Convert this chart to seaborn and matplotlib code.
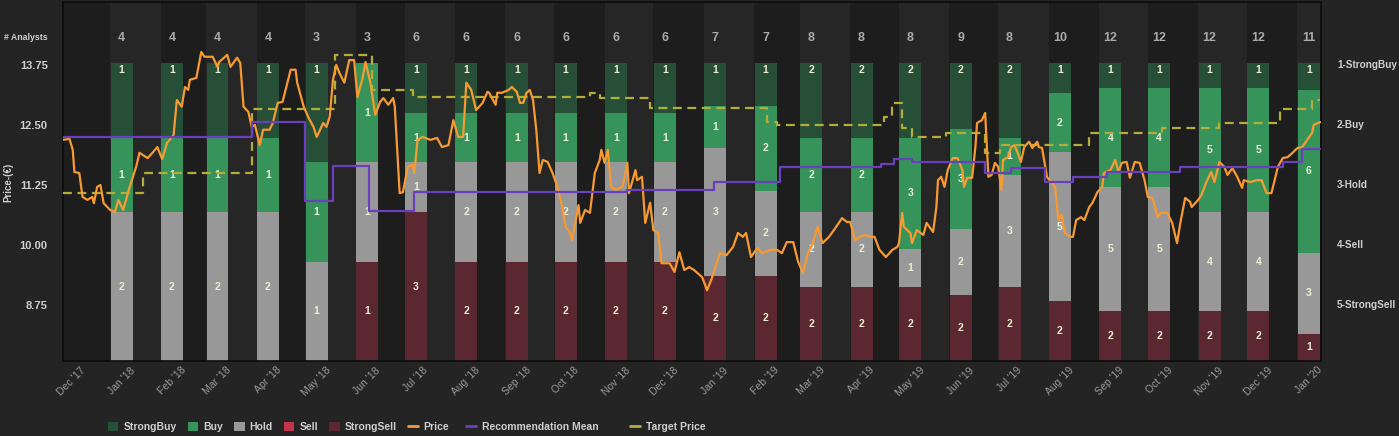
import pandas as pd
import numpy as np
import seaborn as sns
import matplotlib
matplotlib.use("Agg")
import matplotlib.pyplot as plt
import matplotlib.dates as mdates
from matplotlib.patches import Patch
from matplotlib.lines import Line2D

# ---- data ----
base = pd.Timestamp("2017-11-26")

# price: days since base, price in EUR
price_day = [0, 4, 6, 7, 10, 12, 15, 18, 19, 21, 23, 25, 29, 32, 34, 37, 41, 45, 47, 52,
             55, 58, 61, 64, 68, 70, 73, 75, 77, 78, 82, 85, 87, 92, 95, 96, 101, 103, 107, 109,
             111, 114, 116, 118, 121, 123, 127, 129, 132, 135, 140, 143, 144, 148, 151, 154, 156, 160, 162, 164,
             166, 168, 170, 173, 176, 179, 181, 184, 186, 189, 192, 195, 197, 200, 203, 204, 207, 209, 212, 215,
             216, 218, 221, 226, 230, 233, 237, 240, 243, 246, 248, 251, 254, 258, 261,
             262, 266, 267, 270, 274, 276, 279, 281, 283, 285, 287, 289, 291, 293, 295, 298, 301, 304, 307, 309,
             312, 313, 317, 318, 321, 324, 327, 330, 331, 333, 335, 337, 340, 344, 347, 348, 352, 353, 356, 358,
             361, 363, 366, 368, 373, 376, 379, 382, 385, 388, 393, 396, 399, 401, 404, 408, 412, 415, 418, 420,
             423, 427, 430, 435, 439, 442, 445, 449, 452, 455, 458, 461, 464, 467, 471, 474, 479, 482, 484, 487,
             490, 493, 496, 499, 502, 506, 510, 513,
             514, 516, 517, 521, 522, 525, 529, 531, 535, 537, 538, 540, 542, 544, 547, 550, 553, 554, 556, 559,
             561, 562, 565, 567, 569, 571, 573, 575, 577, 578, 581, 583, 585, 587, 589, 591, 594, 596, 599, 600,
             602, 605, 608, 610, 612, 614, 616, 619, 621, 623, 626, 628, 631, 633, 636, 639, 640, 644, 647, 649,
             651, 654, 656, 659, 662, 665, 667, 670, 673, 675, 679, 682, 685, 687, 690, 693, 694, 698, 700, 703,
             706, 708, 711, 714, 716, 719, 722, 725, 726, 730, 734, 737, 740, 743, 745, 747, 750, 753, 756, 759,
             762, 765, 768, 769, 773]
price_val = [12.19, 12.21, 11.98, 11.52, 11.50, 11.00, 10.94, 11.00, 10.87, 11.21, 11.25, 10.87, 10.73, 10.69, 10.94, 10.73, 11.21, 11.63, 11.92, 11.81,
             11.92, 12.04, 11.79, 12.13, 12.29, 13.02, 12.88, 13.29, 13.23, 13.44, 13.48, 14.02, 13.92, 13.92, 13.71, 13.81, 13.96, 13.71, 13.90, 13.79,
             12.88, 12.77, 12.46, 12.50, 12.08, 12.40, 12.40, 12.54, 12.96, 12.98, 13.65, 13.65, 13.38, 12.88, 12.65, 12.46, 12.25, 12.54, 12.46, 12.67,
             13.44, 13.75, 13.58, 13.38, 13.85, 13.85, 13.08, 13.44, 13.81, 13.38, 12.71, 12.98, 13.06, 12.92, 13.06, 12.88, 11.08, 11.10, 11.63, 11.67,
             11.50, 12.19, 12.25, 12.19, 12.23, 12.04, 12.08, 12.60, 12.25, 12.25, 13.38, 13.23, 12.81, 12.96, 13.19,
             13.17, 12.92, 13.17, 13.17, 13.23, 13.29, 13.19, 12.96, 12.96, 13.17, 13.23, 13.02, 12.40, 11.50, 11.77, 11.73, 11.50, 11.21, 10.79, 10.38,
             10.25, 10.10, 10.83, 10.46, 10.73, 10.67, 11.50, 11.77, 11.98, 11.71, 11.98, 11.21, 11.15, 11.21, 11.71, 11.08, 11.56, 11.35, 11.42, 10.46,
             10.88, 10.31, 10.25, 9.62, 9.62, 9.44, 9.85, 9.48, 9.54, 9.48, 9.33, 9.06, 9.31, 9.54, 9.83, 9.79, 9.96, 10.25, 10.17, 10.25,
             9.75, 9.94, 9.83, 9.90, 9.90, 9.83, 10.06, 10.06, 9.65, 9.42, 9.83, 10.04, 10.38, 10.04, 10.17, 10.31, 10.56, 10.48, 10.48, 10.10,
             10.17, 10.21, 10.17, 10.17, 9.90, 9.75, 9.90, 9.96,
             10.04, 10.67, 10.38, 10.25, 10.04, 10.31, 10.21, 10.46, 10.27, 10.79, 11.35, 11.42, 11.21, 11.56, 11.81, 11.81, 11.56, 11.21, 11.40, 11.40,
             12.04, 12.54, 12.60, 12.75, 11.42, 11.46, 11.71, 11.63, 11.15, 11.77, 11.83, 12.04, 12.08, 11.92, 11.73, 12.04, 12.15, 12.02, 12.15, 12.04,
             12.02, 11.42, 11.29, 11.21, 10.52, 10.63, 10.25, 10.17, 10.17, 10.52, 10.58, 10.52, 10.79, 10.88, 11.10, 11.21, 11.50, 11.56, 11.77, 11.52,
             11.71, 11.73, 11.40, 11.73, 11.71, 11.35, 11.00, 10.98, 10.58, 10.67, 10.67, 10.46, 10.04, 10.46, 10.98, 10.90, 10.79, 10.94, 11.04, 11.31,
             11.52, 11.31, 11.73, 11.63, 11.46, 11.60, 11.42, 11.19, 11.35, 11.31, 11.35, 11.35, 11.08, 11.08, 11.35, 11.63, 11.81, 11.83, 11.92, 12.02,
             12.04, 12.19, 12.33, 12.50, 12.56]

# target price (step)
target_day = [0, 49, 116, 167, 190, 215, 324, 330, 361, 433, 439, 505, 510, 516, 522, 543, 567, 576, 631, 676, 711, 748, 768, 773]
target_val = [11.08, 11.50, 12.83, 13.96, 13.23, 13.08, 13.17, 13.06, 12.85, 12.56, 12.50, 12.67, 12.96, 12.44, 12.25, 12.33,
              11.92, 12.08, 12.33, 12.44, 12.54, 12.83, 13.02, 13.02]

# recommendation mean (step, 1 = StrongBuy ... 5 = StrongSell)
rec_day = [0, 116, 149, 166, 188, 216, 347, 400, 441, 503, 511, 522, 567, 583, 604, 621, 642, 687, 750, 762, 773]
rec_val = [2.22, 1.97, 3.28, 2.70, 3.45, 3.13, 3.10, 2.97, 2.72, 2.67, 2.58, 2.63, 2.82, 2.73, 2.97, 2.88, 2.80, 2.72, 2.63, 2.42, 2.42]

# analyst counts per month (Jan '18 .. Jan '20)
months = pd.date_range("2018-01-01", "2020-01-01", freq="MS")
strong_buy = [1, 1, 1, 1, 1, 0, 1, 1, 1, 1, 1, 1, 1, 1, 2, 2, 2, 2, 2, 1, 1, 1, 1, 1, 1]
buy = [1, 1, 1, 1, 1, 1, 1, 1, 1, 1, 1, 1, 1, 2, 2, 2, 3, 3, 1, 2, 4, 4, 5, 5, 6]
hold = [2, 2, 2, 2, 1, 1, 1, 2, 2, 2, 2, 2, 3, 2, 2, 2, 1, 2, 3, 5, 5, 5, 4, 4, 3]
sell = [0] * 25
strong_sell = [0, 0, 0, 0, 0, 1, 3, 2, 2, 2, 2, 2, 2, 2, 2, 2, 2, 2, 2, 2, 2, 2, 2, 2, 1]

tick_months = pd.date_range("2017-12-01", "2020-01-01", freq="MS")
right_labels = ["1-StrongBuy", "2-Buy", "3-Hold", "4-Sell", "5-StrongSell"]

colors = {"StrongBuy": "#274f38", "Buy": "#36945b", "Hold": "#989898",
          "Sell": "#c2364b", "StrongSell": "#5b2831"}
price_color = "#f79a32"
rec_color = "#6a3fbd"
target_color = "#b5ad3a"
text_color = "#cfcfcf"

# ---- style ----
sns.set_theme(style="dark", rc={"figure.facecolor": "#242424", "axes.facecolor": "#1d1d1d",
                                "axes.edgecolor": "#0c0c0c", "text.color": text_color})
plt.rcParams["font.family"] = ["Liberation Sans", "DejaVu Sans"]

fig = plt.figure(figsize=(13.99, 4.36), dpi=100)
ax = fig.add_axes([63 / 1399, 75 / 436, 1258 / 1399, 359 / 436])
ax.set_facecolor("#1d1d1d")

# alternating month bands
for i, m in enumerate(tick_months):
    if i % 2 == 1:
        start = m - pd.Timedelta(days=7)
        end = m + pd.offsets.MonthBegin(1) - pd.Timedelta(days=7)
        ax.axvspan(start, end, color="#262626", lw=0, zorder=0)

counts = pd.DataFrame({"StrongBuy": strong_buy, "Buy": buy, "Hold": hold,
                       "Sell": sell, "StrongSell": strong_sell}, index=months)
total = counts.sum(axis=1)
share = counts.div(total, axis=0)

bottom = np.zeros(len(months))
for col in ["StrongSell", "Sell", "Hold", "Buy", "StrongBuy"]:
    h = share[col].values
    ax.bar(months, h, bottom=bottom, width=13.5, color=colors[col], lw=0, zorder=2)
    for m, b, hh, n in zip(months, bottom, h, counts[col]):
        if n == 0:
            continue
        y = b + hh - 0.024 if col == "StrongBuy" else b + hh / 2
        ax.text(mdates.date2num(m), y, str(n), ha="center", va="center", fontsize=7.5,
                fontweight="bold", color="#eeeed2", zorder=5)
    bottom += h

for m, n in zip(months, total):
    ax.text(mdates.date2num(m), 1.084, str(n), ha="center", va="center", fontsize=9,
            fontweight="bold", color="#aaaaaa")

ax.set_ylim(0, 1.205)
ax.set_yticks([])

# price + target on the left axis
ax_p = ax.twinx()
price_dates = base + pd.to_timedelta(price_day, unit="D")
target_dates = base + pd.to_timedelta(target_day, unit="D")
sns.lineplot(x=price_dates, y=price_val, ax=ax_p, color=price_color, lw=1.6, zorder=4)
sns.lineplot(x=target_dates, y=target_val, ax=ax_p, color=target_color, lw=1.6,
             drawstyle="steps-post", linestyle=(0, (4, 2.5)), zorder=3)
ax_p.yaxis.tick_left()
ax_p.set_ylim(7.585, 15.06)
ax_p.set_yticks([8.75, 10.00, 11.25, 12.50, 13.75])
ax_p.set_yticklabels(["%.2f" % v for v in [8.75, 10.00, 11.25, 12.50, 13.75]])
ax_p.tick_params(axis="y", length=0, pad=11, labelsize=8, labelcolor=text_color)
for lbl in ax_p.get_yticklabels():
    lbl.set_fontweight("bold")
ax_p.set_xlabel("")
ax_p.set_ylabel("")

# recommendation mean on the right axis
ax_r = ax.twinx()
rec_dates = base + pd.to_timedelta(rec_day, unit="D")
sns.lineplot(x=rec_dates, y=rec_val, ax=ax_r, color=rec_color, lw=1.6, drawstyle="steps-post")
ax_r.set_ylim(5.95, -0.033)
ax_r.set_yticks([1, 2, 3, 4, 5])
ax_r.set_yticklabels(right_labels)
ax_r.tick_params(axis="y", length=0, pad=11.5, labelsize=7.2, labelcolor=text_color)
for lbl in ax_r.get_yticklabels():
    lbl.set_fontweight("bold")
ax_r.set_xlabel("")
ax_r.set_ylabel("")

for a in (ax_p, ax_r):
    for s in a.spines.values():
        s.set_visible(False)
for s in ax.spines.values():
    s.set_color("#0c0c0c")
    s.set_linewidth(1.2)

ax.set_xlim(base, base + pd.Timedelta(days=773.5))
ax.set_xticks(tick_months)
ax.set_xticklabels([m.strftime("%b '%y") for m in tick_months], rotation=45, ha="center")
ax.tick_params(axis="x", length=0, pad=3, labelsize=7.5, labelcolor="#9a9a9a")

fig.text(48 / 1399, 1 - 38 / 436, "# Analysts", ha="right", va="center", fontsize=6.3,
         fontweight="bold", color=text_color)
fig.text(8 / 1399, 1 - 182 / 436, "Price-(€)", rotation=90, ha="center", va="center",
         fontsize=7, fontweight="bold", color=text_color)

# legend: three groups so the uneven gaps of the original are kept
leg_kw = dict(loc="center left", frameon=False, borderpad=0, borderaxespad=0,
              columnspacing=1.05, handlelength=1.0, handleheight=1.0, handletextpad=0.5,
              labelcolor=text_color, prop={"weight": "bold", "size": 7.5})
leg_y = 1 - 427 / 436
bar_handles = [Patch(facecolor=colors[k], edgecolor="none") for k in ["StrongBuy", "Buy", "Hold", "Sell", "StrongSell"]]
fig.legend(bar_handles + [Line2D([], [], color=price_color, lw=2)],
           ["StrongBuy", "Buy", "Hold", "Sell", "StrongSell", "Price"],
           ncol=6, bbox_to_anchor=(108 / 1399, leg_y), **leg_kw)
fig.legend([Line2D([], [], color=rec_color, lw=2)], ["Recommendation Mean"],
           bbox_to_anchor=(466 / 1399, leg_y), **leg_kw)
fig.legend([Line2D([], [], color=target_color, lw=2)], ["Target Price"],
           bbox_to_anchor=(630 / 1399, leg_y), **leg_kw)

fig.savefig("out.png", dpi=100, facecolor=fig.get_facecolor())
